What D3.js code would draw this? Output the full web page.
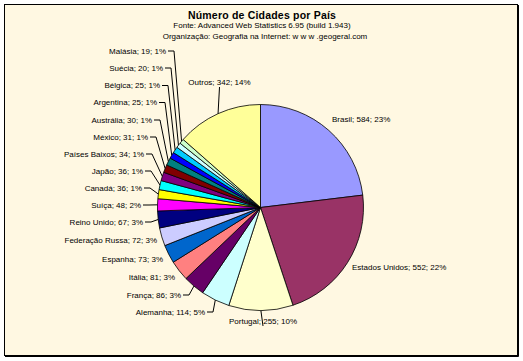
<!DOCTYPE html>
<html><head><meta charset="utf-8">
<script src="https://cdn.jsdelivr.net/npm/d3@7"></script>
<style>
html,body{margin:0;padding:0;background:#fff;}
svg{display:block;}
text{font-family:"Liberation Sans",Arial,sans-serif;fill:#000;}
</style></head>
<body>
<svg id="chart" width="523" height="361"></svg>
<script>
// ---- data ----
const categories = ["Brasil","Estados Unidos","Portugal","Alemanha","França","Itália","Espanha","Federação Russa","Reino Unido","Suíça","Canadá","Japão","Países Baixos","México","Austrália","Argentina","Bélgica","Suécia","Malásia","Outros"];
const values = [584,552,255,114,86,81,73,72,67,48,36,36,34,31,30,25,25,20,19,342];
const colors = ["#9999FF","#993366","#FFFFCC","#CCFFFF","#660066","#FF8080","#0066CC","#CCCCFF","#000080","#FF00FF","#FFFF00","#00FFFF","#800080","#800000","#008080","#0000FF","#00CCFF","#CCFFFF","#CCFFCC","#FFFF99"];
const titleLines = ["Número de Cidades por País","Fonte: Advanced Web Statistics 6.95 (build 1.943)","Organização: Geografia na Internet: w w w .geogeral.com"];

// ---- layout (label anchor positions) ----
const labelLayout = [
  [332,119.5,"start"],[352,267,"start"],[263,321,"middle"],[205,312,"end"],[181,295,"end"],
  [175,277,"end"],[163,259,"end"],[157,240,"end"],[143,222,"end"],[141,205,"end"],
  [142,188,"end"],[143,171,"end"],[144,154,"end"],[148,137,"end"],[152,120,"end"],
  [157,102.5,"end"],[160,85.5,"end"],[163,68,"end"],[166,51,"end"],[219.5,82,"middle"]
];

const svg = d3.select("#chart");
const W = 523, H = 361;
// chart area with shadow border
svg.append("rect").attr("x",4.5).attr("y",4.5).attr("width",513).attr("height",351)
  .attr("fill","#FFF8E2").attr("stroke","#000").attr("stroke-width",1);
svg.append("path").attr("d","M518.5,5 V356.5 H5").attr("fill","none").attr("stroke","#000").attr("stroke-width",1);

// titles
const tt = svg.append("g").attr("text-anchor","middle");
tt.append("text").attr("x",262).attr("y",18.5).attr("font-size","10.5px").attr("font-weight","bold")
  .attr("letter-spacing","0.2px").text(titleLines[0]);
tt.append("text").attr("x",262).attr("y",27.5).attr("font-size","8px").text(titleLines[1]);
tt.append("text").attr("x",265).attr("y",38.5).attr("font-size","8px").text(titleLines[2]);

// pie
const cx = 260.5, cy = 207.5, R = 103;
const total = d3.sum(values);
const data = categories.map((c,i)=>({name:c,value:values[i],color:colors[i],i}));
const pie = d3.pie().value(d=>d.value).sort(null);
const arcs = pie(data);
const arc = d3.arc().innerRadius(0).outerRadius(R);
const g = svg.append("g").attr("transform",`translate(${cx},${cy})`);
g.selectAll("path").data(arcs).join("path")
  .attr("d",arc).attr("fill",d=>d.data.color)
  .attr("stroke","#000").attr("stroke-width",0.8).attr("stroke-linejoin","round");

// labels + leaders
const lg = svg.append("g").attr("font-size","8px");
arcs.forEach((a,i)=>{
  const [lx,ly,anchor] = labelLayout[i];
  const pct = Math.round(a.data.value/total*100);
  lg.append("text").attr("x",lx).attr("y",ly).attr("dy","0.35em").attr("text-anchor",anchor)
    .text(`${a.data.name}; ${a.data.value}; ${pct}%`);
  const mid = (a.startAngle+a.endAngle)/2;
  const px = cx + R*Math.sin(mid), py = cy - R*Math.cos(mid);
  let pts = null;
  if(anchor==="end"){
    const d = Math.hypot(px-lx, py-ly);
    if(d>13) pts = [[lx+2,ly],[lx+8,ly],[px,py]];
  } else if(anchor==="middle"){
    const by = ly+5;
    if(Math.abs(py-by)>13) pts = [[lx,by],[px,py]];
  } else {
    const d = Math.hypot(px-lx, py-ly);
    if(d>15) pts = [[lx-2,ly],[px,py]];
  }
  if(pts) lg.append("path").attr("d",d3.line()(pts)).attr("fill","none").attr("stroke","#000").attr("stroke-width",1);
});
</script>
</body></html>
